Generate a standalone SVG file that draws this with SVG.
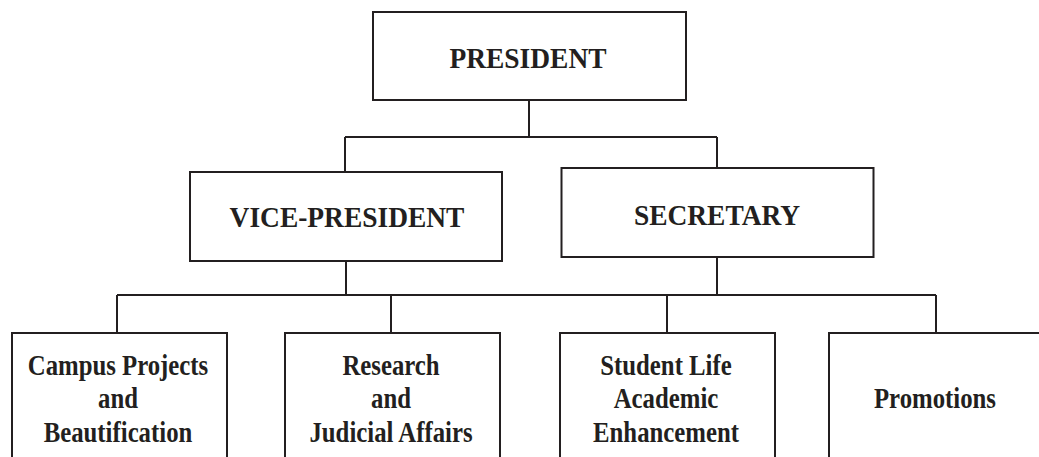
<svg xmlns="http://www.w3.org/2000/svg" width="1039" height="457" viewBox="0 0 1039 457">
<style>
.box{fill:#fff;stroke:#231f20;stroke-width:2}
.con{fill:none;stroke:#231f20;stroke-width:2}
.t{font-family:"Liberation Serif","Times New Roman",serif;font-weight:bold;fill:#231f20;text-anchor:middle}
.big{font-size:30.5px}
.small{font-size:29.5px}
</style>
<rect width="1039" height="457" fill="#fff"/>
<g id="connectors">
<path class="con" d="M529 100V137M345 137H717M345 137V172M717 137V168"/>
<path class="con" d="M346 261V295M717 257V295M117 295H936M117 295V333M391 295V333M667 295V333M936 295V333"/>
</g>
<g id="president">
<rect class="box" x="373" y="12" width="313" height="88"/>
<text class="t big" transform="translate(528 68) scale(0.9 1)">PRESIDENT</text>
</g>
<g id="vice-president">
<rect class="box" x="190" y="172" width="312" height="89"/>
<text class="t big" transform="translate(347 227) scale(0.9 1)">VICE-PRESIDENT</text>
</g>
<g id="secretary">
<rect class="box" x="561.5" y="168" width="312" height="89"/>
<text class="t big" transform="translate(717 225) scale(0.9 1)">SECRETARY</text>
</g>
<g id="campus">
<rect class="box" x="12" y="333" width="215" height="140"/>
<g transform="translate(118 0) scale(0.84 1)">
<text class="t small" x="0" y="375">Campus Projects</text>
<text class="t small" x="0" y="408.5">and</text>
<text class="t small" x="0" y="442">Beautification</text>
</g>
</g>
<g id="research">
<rect class="box" x="285" y="333" width="215" height="140"/>
<g transform="translate(391 0) scale(0.84 1)">
<text class="t small" x="0" y="375">Research</text>
<text class="t small" x="0" y="408.5">and</text>
<text class="t small" x="0" y="442">Judicial Affairs</text>
</g>
</g>
<g id="student">
<rect class="box" x="560" y="333" width="215" height="140"/>
<g transform="translate(666 0) scale(0.84 1)">
<text class="t small" x="0" y="375">Student Life</text>
<text class="t small" x="0" y="408.5">Academic</text>
<text class="t small" x="0" y="442">Enhancement</text>
</g>
</g>
<g id="promotions">
<rect class="box" x="829" y="333" width="230" height="140"/>
<text class="t small" transform="translate(935 408) scale(0.84 1)">Promotions</text>
</g>
</svg>
